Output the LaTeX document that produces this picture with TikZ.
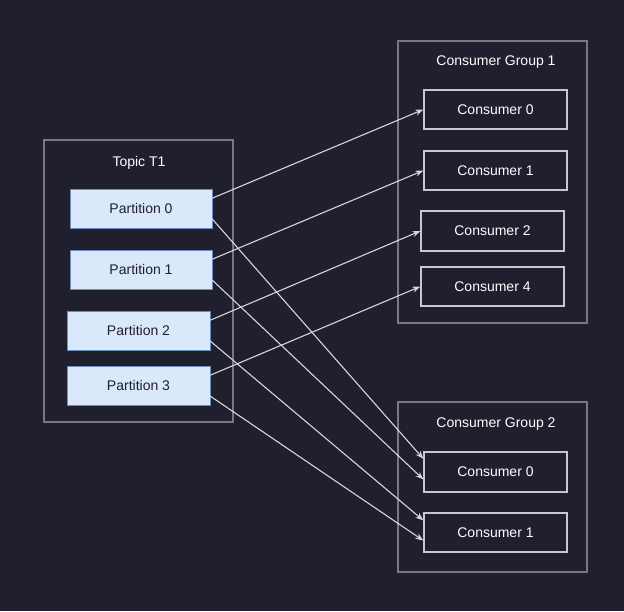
\documentclass[tikz,border=0pt]{standalone}
\usepackage{fontspec}
\setmainfont{Liberation Sans}
\usepackage{tikz}
\usetikzlibrary{arrows.meta,calc,positioning}
\definecolor{bgdark}{RGB}{31,31,46}
\definecolor{partfill}{RGB}{218,232,252}
\definecolor{partline}{RGB}{108,142,191}
\definecolor{groupline}{RGB}{120,120,126}
\definecolor{consline}{RGB}{200,200,204}
\definecolor{wire}{RGB}{215,215,218}
\tikzset{>={Stealth[length=8pt,width=6pt]}}

\begin{document}
\begin{tikzpicture}[x=1pt,y=-1pt,line cap=round,
  font=\fontsize{14}{16}\selectfont,
  group/.style={draw=groupline,line width=1.2pt,minimum width=189pt,inner sep=0pt},
  part/.style={draw=partline,fill=partfill,text=bgdark,line width=1pt,
    minimum width=142pt,minimum height=39pt,inner sep=0pt},
  cons/.style={draw=consline,text=white,line width=1.3pt,
    minimum width=143pt,minimum height=39pt,inner sep=0pt},
  lbl/.style={text=white,inner sep=0pt},
  link/.style={->,draw=wire,line width=1.1pt}]

  \fill [bgdark] (0,0) rectangle (624,611);
  \useasboundingbox (0,0) rectangle (624,611);

  % topic
  \node [group,minimum height=282pt] (topic) at (138.5,281) {};
  \node [lbl] (topiclbl) at (139,163) {Topic T1};
  \node [part] (p0) at (141,208.5) {Partition 0};
  \node [part] (p1) at (141,269.5) {Partition 1};
  \node [part,minimum width=143pt] (p2) at (138.5,330.5) {Partition 2};
  \node [part,minimum width=143pt] (p3) at (138.5,385.5) {Partition 3};

  % consumer group 1
  \node [group,minimum height=282pt] (grpa) at (492.5,182) {};
  \node [lbl] (grpalbl) at (496,62.5) {Consumer Group 1};
  \node [cons] (a0) at (495.5,109.5) {Consumer 0};
  \node [cons] (a1) at (495.5,170.5) {Consumer 1};
  \node [cons,minimum height=40pt] (a2) at (492.5,231) {Consumer 2};
  \node [cons] (a4) at (492.5,286.5) {Consumer 4};

  % consumer group 2
  \node [group,minimum height=170pt] (grpb) at (492.5,487) {};
  \node [lbl] (grpblbl) at (496,424.5) {Consumer Group 2};
  \node [cons,minimum height=40pt] (b0) at (495.5,472) {Consumer 0};
  \node [cons] (b1) at (495.5,532.5) {Consumer 1};

  % group 1 links
  \draw [link] ($(p0.north east)!.24!(p0.south east)$) -- (a0.west);
  \draw [link] ($(p1.north east)!.24!(p1.south east)$) -- (a1.west);
  \draw [link] ($(p2.north east)!.24!(p2.south east)$) -- (a2.west);
  \draw [link] ($(p3.north east)!.24!(p3.south east)$) -- (a4.west);

  % group 2 links
  \draw [link] ($(p0.north east)!.77!(p0.south east)$) -- ($(b0.north west)!.18!(b0.south west)$);
  \draw [link] ($(p1.north east)!.77!(p1.south east)$) -- ($(b0.north west)!.68!(b0.south west)$);
  \draw [link] ($(p2.north east)!.77!(p2.south east)$) -- ($(b1.north west)!.2!(b1.south west)$);
  \draw [link] ($(p3.north east)!.77!(p3.south east)$) -- ($(b1.north west)!.7!(b1.south west)$);

\end{tikzpicture}
\end{document}
